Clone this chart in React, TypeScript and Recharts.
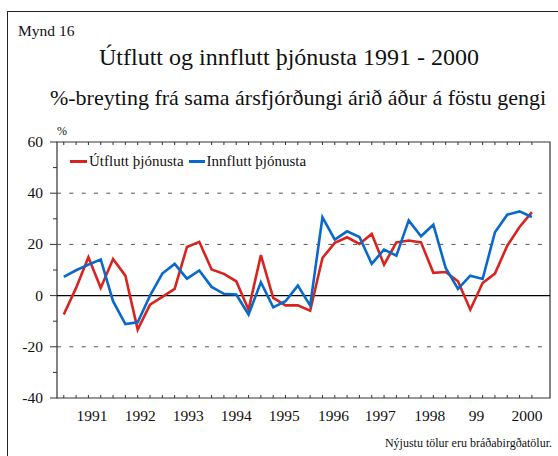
import React from 'react';
import { LineChart, Line, XAxis, YAxis, ReferenceLine, ReferenceArea } from 'recharts';

// ársfjórðungar, % breyting frá sama ársfjórðungi árið áður
const utflutt = [
  -7.4, 3, 15.0, 3.0, 14.3, 7.8, -13.3, -3.5, -0.5, 2.6, 19.0, 21.0, 10.2,
  8.5, 5.6, -5.5, 15.8, -0.9, -3.8, -3.8, -5.9, 14.7, 20.6, 22.8, 20.2,
  24.1, 12.1, 20.8, 21.5, 20.8, 8.9, 9.2, 5.6, -5.5, 4.9, 8.6, 19.5, 26.8, 32.6,
];
const innflutt = [
  7.3, 9.9, 12.1, 14.1, -2.2, -11.1, -10.4, 0, 8.6, 12.4, 6.6, 9.8, 3.4,
  0.7, 0.4, -7.4, 5.2, -4.6, -2.2, 3.9, -3.9, 30.6, 21.9, 25.1, 22.9,
  12.4, 18.0, 15.6, 29.4, 23.2, 27.7, 10.8, 2.6, 7.8, 6.5, 24.7, 31.6, 32.9, 30.7,
];
const yearLabels = ['1991', '1992', '1993', '1994', '1995', '1996', '1997', '1998', '99', '2000'];
const yearTickAt = [2.3, 6.2, 10.1, 14.0, 17.9, 21.9, 25.7, 29.7, 33.5, 37.6];
const yTicks = [-40, -30, -20, -10, 0, 10, 20, 30, 40, 50, 60];

const data = utflutt.map((u, i) => ({ q: i, utflutt: u, innflutt: innflutt[i] }));
const quarterTicks = data.map((d) => d.q);

const X_DOMAIN: [number, number] = [-0.55, 39.47];
const PLOT_TOP = 142;
const PLOT_BOTTOM = 398;
const serif = '"Liberation Serif", "DejaVu Serif", serif';
const RED = '#d8231f';
const BLUE = '#0868cc';

const YTick = (props: any) => {
  const { x, y, payload } = props;
  const major = payload.value % 20 === 0;
  return (
    <g>
      <line x1={x - (major ? 7 : 4)} x2={x} y1={y} y2={y} stroke="#333" />
      {major && (
        <text x={x - 14} y={y + 5} textAnchor="end" fontSize={15.5} fontFamily={serif} fill="#111">
          {payload.value}
        </text>
      )}
    </g>
  );
};

const YearTick = (props: any) => {
  const { x, payload } = props;
  const idx = yearTickAt.indexOf(payload.value);
  return (
    <text x={x} y={421} textAnchor="middle" fontSize={15.5} fontFamily={serif} fill="#111">
      {yearLabels[idx]}
    </text>
  );
};

const QuarterTick = (props: any) => {
  const { x } = props;
  return (
    <g stroke="#333">
      <line x1={x} x2={x} y1={PLOT_BOTTOM} y2={PLOT_BOTTOM - 3} />
      <line x1={x} x2={x} y1={PLOT_TOP} y2={PLOT_TOP + 3} />
    </g>
  );
};

export default function App() {
  return (
    <div style={{ position: 'fixed', left: 0, top: 0, width: 558, height: 456, overflow: 'hidden', background: '#fff' }}>
      <div style={{ position: 'absolute', left: 7, top: 11, width: 700, height: 600, borderLeft: '1px solid #222', borderTop: '1px solid #222' }} />
      <div style={{ position: 'absolute', left: 18, top: 22, fontFamily: serif, fontSize: 15.5, color: '#111' }}>Mynd 16</div>
      <div style={{ position: 'absolute', left: 0, width: 578, top: 44, textAlign: 'center', fontFamily: serif, fontSize: 24, color: '#111' }}>
        Útflutt og innflutt þjónusta 1991 - 2000
      </div>
      <div style={{ position: 'absolute', left: 0, width: 596, top: 85, textAlign: 'center', fontFamily: serif, fontSize: 22, color: '#111' }}>
        %-breyting frá sama ársfjórðungi árið áður á föstu gengi
      </div>
      <div style={{ position: 'absolute', left: 57, top: 124, fontFamily: serif, fontSize: 12, color: '#111' }}>%</div>
      <div style={{ position: 'absolute', right: 6, top: 436, fontFamily: serif, fontSize: 12, color: '#111' }}>
        Nýjustu tölur eru bráðabirgðatölur.
      </div>
      <div style={{ position: 'absolute', left: 0, top: 0 }}>
        <LineChart width={558} height={456} data={data} margin={{ top: PLOT_TOP, right: 8, bottom: 28, left: 7 }}>
          <XAxis
            xAxisId="main"
            dataKey="q"
            type="number"
            domain={X_DOMAIN}
            allowDataOverflow
            ticks={yearTickAt}
            tick={<YearTick />}
            tickLine={false}
            axisLine={false}
            tickSize={0}
            height={29}
            interval={0}
          />
          <XAxis
            xAxisId="quarters"
            dataKey="q"
            type="number"
            domain={X_DOMAIN}
            allowDataOverflow
            ticks={quarterTicks}
            tick={<QuarterTick />}
            tickLine={false}
            axisLine={false}
            tickSize={0}
            height={1}
            interval={0}
          />
          <YAxis
            type="number"
            domain={[-40, 60]}
            ticks={yTicks}
            tick={<YTick />}
            tickLine={false}
            axisLine={false}
            tickSize={0}
            tickMargin={0}
            width={50}
            interval={0}
          />
          {[40, 20, -20].map((v) => (
            <ReferenceLine key={v} xAxisId="main" y={v} stroke="#555" strokeDasharray="4 8.33" />
          ))}
          <ReferenceLine xAxisId="main" y={0} stroke="#000" strokeWidth={1.2} />
          <ReferenceArea xAxisId="main" x1={X_DOMAIN[0]} x2={X_DOMAIN[1]} y1={-40} y2={60} fill="none" stroke="#333" strokeWidth={1.2} />
          <Line xAxisId="main" type="linear" dataKey="utflutt" stroke={RED} strokeWidth={2.6} dot={false} isAnimationActive={false} />
          <Line xAxisId="main" type="linear" dataKey="innflutt" stroke={BLUE} strokeWidth={2.6} dot={false} isAnimationActive={false} />
        </LineChart>
      </div>
      <div style={{ position: 'absolute', left: 70, top: 153, display: 'flex', alignItems: 'center', fontFamily: serif, fontSize: 15, color: '#111' }}>
        <span style={{ display: 'inline-block', width: 17, height: 3, background: RED, marginRight: 2 }} />
        <span style={{ marginRight: 5 }}>Útflutt þjónusta</span>
        <span style={{ display: 'inline-block', width: 16, height: 3, background: BLUE, marginRight: 2 }} />
        <span>Innflutt þjónusta</span>
      </div>
    </div>
  );
}
